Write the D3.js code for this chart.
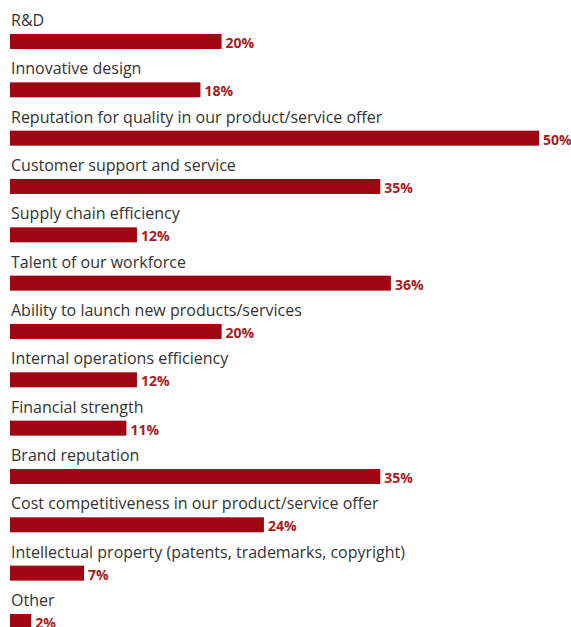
<!DOCTYPE html>
<html>
<head>
<meta charset="utf-8">
<script src="https://cdn.jsdelivr.net/npm/d3@7"></script>
<style>
  html, body { margin: 0; padding: 0; background: #fff; }
  svg { display: block; }
</style>
</head>
<body>
<svg id="chart" width="571" height="627"></svg>
<script>
const categories = [
  "R&D",
  "Innovative design",
  "Reputation for quality in our product/service offer",
  "Customer support and service",
  "Supply chain efficiency",
  "Talent of our workforce",
  "Ability to launch new products/services",
  "Internal operations efficiency",
  "Financial strength",
  "Brand reputation",
  "Cost competitiveness in our product/service offer",
  "Intellectual property (patents, trademarks, copyright)",
  "Other"
];
const values = [20, 18, 50, 35, 12, 36, 20, 12, 11, 35, 24, 7, 2];

const svg = d3.select("#chart");
const left = 10;

const x = d3.scaleLinear().domain([0, 50]).range([left, 539]);
const y = d3.scaleBand()
  .domain(categories)
  .range([14, 14 + 48.33 * categories.length])
  .paddingInner(0)
  .paddingOuter(0);

const rows = svg.selectAll("g.row")
  .data(categories)
  .join("g")
  .attr("class", "row")
  .attr("transform", d => `translate(0,${y(d)})`);

rows.append("text")
  .attr("x", left + 1)
  .attr("y", 12)
  .attr("fill", "#333")
  .style("font-family", "'Open Sans', sans-serif")
  .style("font-size", "16px")
  .text(d => d);

rows.append("rect")
  .attr("x", left)
  .attr("y", 20)
  .attr("height", 15)
  .attr("width", (d, i) => x(values[i]) - left)
  .attr("fill", "#9f0611");

rows.append("text")
  .attr("x", (d, i) => x(values[i]) + 4)
  .attr("y", 34)
  .attr("fill", "#a81c1f")
  .style("font-family", "'Open Sans', sans-serif")
  .style("font-weight", "700")
  .style("font-size", "14px")
  .text((d, i) => values[i] + "%");
</script>
</body>
</html>
